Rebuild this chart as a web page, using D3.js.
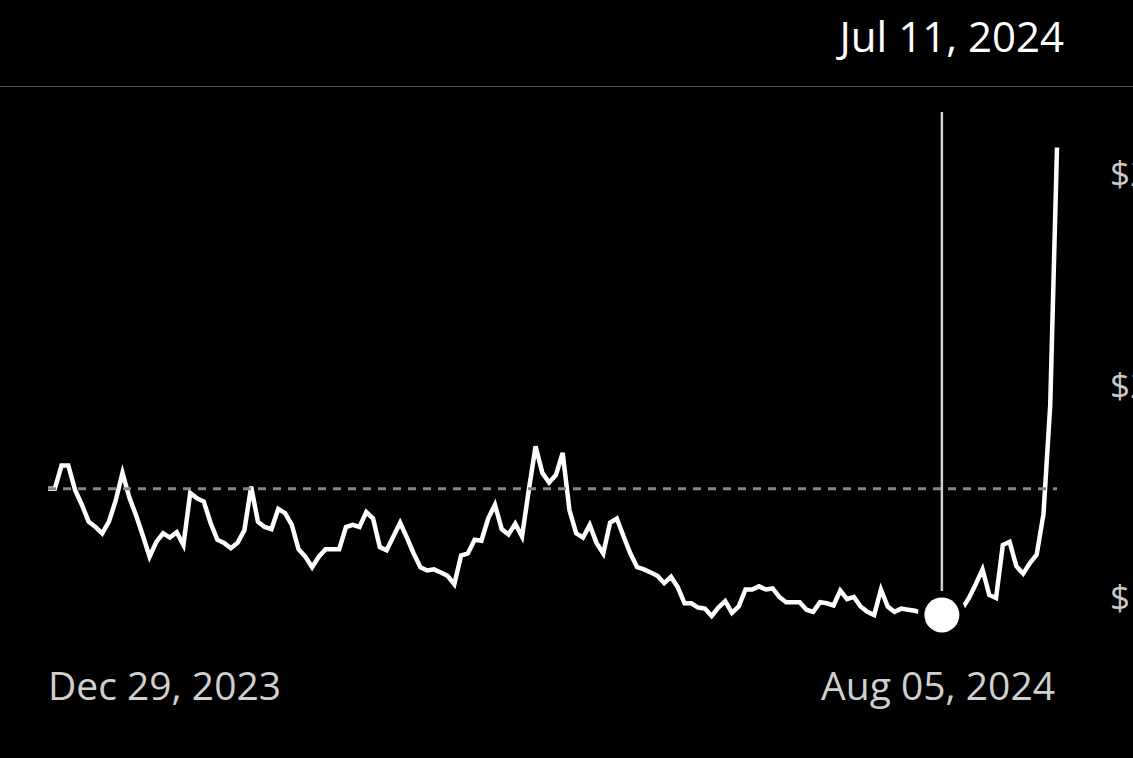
<!DOCTYPE html>
<html>
<head>
<meta charset="utf-8">
<script src="https://cdn.jsdelivr.net/npm/d3@7"></script>
<style>
  html, body { margin: 0; padding: 0; background: #000; overflow: hidden; }
  svg { display: block; }
  text { font-family: "Open Sans", "Noto Sans", sans-serif; }
</style>
</head>
<body>
<svg id="chart" width="1133" height="758"></svg>
<script>
"use strict";

// daily closes, Dec 29 2023 .. Aug 05 2024 (trading days)
const prices = [
  19.03, 19.03, 19.25, 19.25, 19.02, 18.88, 18.72, 18.67, 18.61, 18.72,
  18.92, 19.18, 18.95, 18.78, 18.59, 18.39, 18.53, 18.61, 18.57, 18.62,
  18.50, 18.99, 18.94, 18.91, 18.71, 18.55, 18.52, 18.47, 18.52, 18.64,
  19.05, 18.72, 18.67, 18.65, 18.84, 18.80, 18.69, 18.46, 18.39, 18.29,
  18.39, 18.46, 18.46, 18.46, 18.67, 18.69, 18.67, 18.81, 18.75, 18.48,
  18.45, 18.58, 18.71, 18.57, 18.42, 18.29, 18.26, 18.27, 18.24, 18.21,
  18.13, 18.40, 18.42, 18.55, 18.54, 18.75, 18.88, 18.65, 18.60, 18.70,
  18.58, 19.02, 19.43, 19.18, 19.09, 19.16, 19.37, 18.83, 18.61, 18.57,
  18.69, 18.52, 18.42, 18.71, 18.75, 18.58, 18.42, 18.29, 18.27, 18.24,
  18.21, 18.14, 18.20, 18.10, 17.95, 17.95, 17.91, 17.90, 17.83, 17.91,
  17.97, 17.86, 17.92, 18.08, 18.08, 18.11, 18.08, 18.09, 18.01, 17.96,
  17.96, 17.96, 17.89, 17.87, 17.96, 17.95, 17.93, 18.07, 17.99, 18.01,
  17.92, 17.87, 17.84, 18.08, 17.92, 17.87, 17.90, 17.89, 17.88, 17.86,
  17.85, 17.84, 17.84, 17.85, 17.87, 17.90, 18.00, 18.13, 18.27, 18.03,
  18.00, 18.50, 18.53, 18.30, 18.23, 18.33, 18.41, 18.79, 19.82, 22.25
];
const refPrice = 19.03;           // dashed baseline (first close)
const yTicks = [18, 20, 22];
const startLabel = "Dec 29, 2023";
const endLabel = "Aug 05, 2024";
const hoverLabel = "Jul 11, 2024";
const hoverIndex = 132;

const W = 1133, H = 758;
const svg = d3.select('#chart');

svg.append('rect').attr('width', W).attr('height', H).attr('fill', '#000');

const x = d3.scaleLinear().domain([0, prices.length - 1]).range([48, 1057]);
const y = d3.scaleLinear().domain([18, 22]).range([598, 174]);

// header
svg.append('text')
  .attr('x', 1064).attr('y', 52)
  .attr('text-anchor', 'end')
  .attr('fill', '#fff')
  .attr('font-size', 42)
  .text(hoverLabel);

svg.append('line')
  .attr('x1', 0).attr('x2', W).attr('y1', 86.5).attr('y2', 86.5)
  .attr('stroke', '#4a4a4a').attr('stroke-width', 1);

// y labels (right side, clipped by the window like the original)
svg.append('g').selectAll('text').data(yTicks).enter().append('text')
  .attr('x', 1110)
  .attr('y', d => y(d))
  .attr('dy', '0.35em')
  .attr('fill', '#c8c8c8')
  .attr('font-size', 35)
  .text(d => '$' + d3.format('.2f')(d));

// price line
const line = d3.line().x((d, i) => x(i)).y(d => y(d));
svg.append('path')
  .datum(prices)
  .attr('d', line)
  .attr('fill', 'none')
  .attr('stroke', '#fff')
  .attr('stroke-width', 4.5);

// reference dashed line
svg.append('line')
  .attr('x1', x(0)).attr('x2', x(prices.length - 1))
  .attr('y1', y(refPrice)).attr('y2', y(refPrice))
  .attr('stroke', '#858585')
  .attr('stroke-width', 3)
  .attr('stroke-dasharray', '8,7');

// hover marker
const hx = x(hoverIndex), hy = y(prices[hoverIndex]);
svg.append('line')
  .attr('x1', hx).attr('x2', hx).attr('y1', 112).attr('y2', hy)
  .attr('stroke', '#cfcfcf').attr('stroke-width', 2.5);
svg.append('circle').attr('cx', hx).attr('cy', hy).attr('r', 24).attr('fill', '#000');
svg.append('circle').attr('cx', hx).attr('cy', hy).attr('r', 17.5).attr('fill', '#fff');

// x labels
svg.append('text')
  .attr('x', 48).attr('y', 700)
  .attr('fill', '#cfcfcf')
  .attr('font-size', 39)
  .text(startLabel);
svg.append('text')
  .attr('x', 1055).attr('y', 700)
  .attr('text-anchor', 'end')
  .attr('fill', '#cfcfcf')
  .attr('font-size', 39)
  .text(endLabel);
</script>
</body>
</html>
